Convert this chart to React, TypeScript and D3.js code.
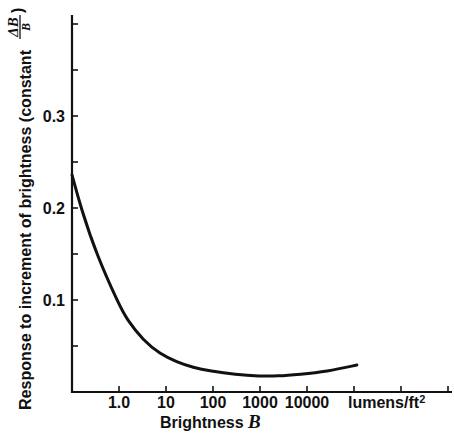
import React from "react";
import * as d3 from "d3";

// Brightness B (lumens/ft^2) and response ΔB/B
const brightness = [0.1, 0.155, 0.34, 1, 1.46, 3.3, 7.4, 17, 38, 87, 300, 1000, 2300, 7100, 26000, 115000];
const response = [0.236, 0.2, 0.148, 0.095, 0.079, 0.0558, 0.0415, 0.0326, 0.0265, 0.0228, 0.019, 0.0172, 0.0172, 0.0192, 0.0222, 0.0293];

const xTickValues = [1, 10, 100, 1000, 10000, 100000, 1000000, 10000000];
const xTickLabels = ["1.0", "10", "100", "1000", "10000"];
const yTickValues = [0.05, 0.1, 0.15, 0.2, 0.25, 0.3, 0.35, 0.4];
const yTickLabels: Record<string, string> = { "0.1": "0.1", "0.2": "0.2", "0.3": "0.3" };

const W = 454;
const H = 434;
const FONT = "'Liberation Sans', Arial, sans-serif";
const SERIF = "'Liberation Serif', 'DejaVu Serif', serif";

const App: React.FC = () => {
  const x = d3.scaleLog().domain([0.1, 1e7]).range([72, 448]);
  const y = d3.scaleLinear().domain([0, 0.4]).range([392, 24]);

  const pts = brightness.map((b, i) => [x(b), y(response[i])] as [number, number]);
  const line = d3.line().curve(d3.curveBasis)(pts) || "";

  const x0 = x(0.1);
  const y0 = y(0);

  return (
    <svg width={W} height={H} style={{ position: "absolute", left: 0, top: 0, background: "#fff" }}>
      {/* axes */}
      <line x1={x0} y1={15} x2={x0} y2={y0 + 1} stroke="#111" strokeWidth={2.2} />
      <line x1={x0 - 1} y1={y0} x2={452} y2={y0} stroke="#111" strokeWidth={2.2} />

      {yTickValues.map((v) => (
        <g key={v}>
          <line x1={x0} x2={x0 + 6} y1={y(v)} y2={y(v)} stroke="#111" strokeWidth={1.6} />
          {yTickLabels[String(v)] && (
            <text x={65} y={y(v)} dy="0.36em" textAnchor="end" fontFamily={FONT} fontSize={16} fontWeight={600} fill="#111">
              {yTickLabels[String(v)]}
            </text>
          )}
        </g>
      ))}

      {xTickValues.map((v, i) => (
        <g key={v}>
          <line x1={x(v)} x2={x(v)} y1={y0} y2={y0 - 6} stroke="#111" strokeWidth={1.6} />
          {xTickLabels[i] && (
            <text x={x(v)} y={408} textAnchor="middle" fontFamily={FONT} fontSize={16} fontWeight={600} fill="#111">
              {xTickLabels[i]}
            </text>
          )}
        </g>
      ))}
      <text x={348} y={408} fontFamily={FONT} fontSize={16} fontWeight={600} fill="#111">
        lumens/ft<tspan dy={-5} fontSize={11}>2</tspan>
      </text>

      {/* x label */}
      <text x={160} y={428} fontFamily={FONT} fontSize={16} fontWeight={600} fill="#111">
        Brightness{" "}
        <tspan fontFamily={SERIF} fontStyle="italic" fontSize={19}>B</tspan>
      </text>

      {/* y label */}
      <g transform="translate(31, 410) rotate(-90)" fill="#111">
        <text x={0} y={0} fontFamily={FONT} fontSize={16} fontWeight={600} textLength={360} lengthAdjust="spacingAndGlyphs">
          Response to increment of brightness (constant
        </text>
        <text x={383} y={-13.5} textAnchor="middle" fontFamily={SERIF} fontStyle="italic" fontWeight={700} fontSize={15}>
          ΔB
        </text>
        <line x1={371} x2={395} y1={-11} y2={-11} stroke="#111" strokeWidth={1.3} />
        <text x={383} y={-1.5} textAnchor="middle" fontFamily={SERIF} fontStyle="italic" fontWeight={700} fontSize={12}>
          B
        </text>
        <text x={397} y={-8} fontFamily={FONT} fontSize={16} fontWeight={600}>)</text>
      </g>

      {/* curve */}
      <path d={line} fill="none" stroke="#111" strokeWidth={3} strokeLinecap="round" />
    </svg>
  );
};

export default App;
